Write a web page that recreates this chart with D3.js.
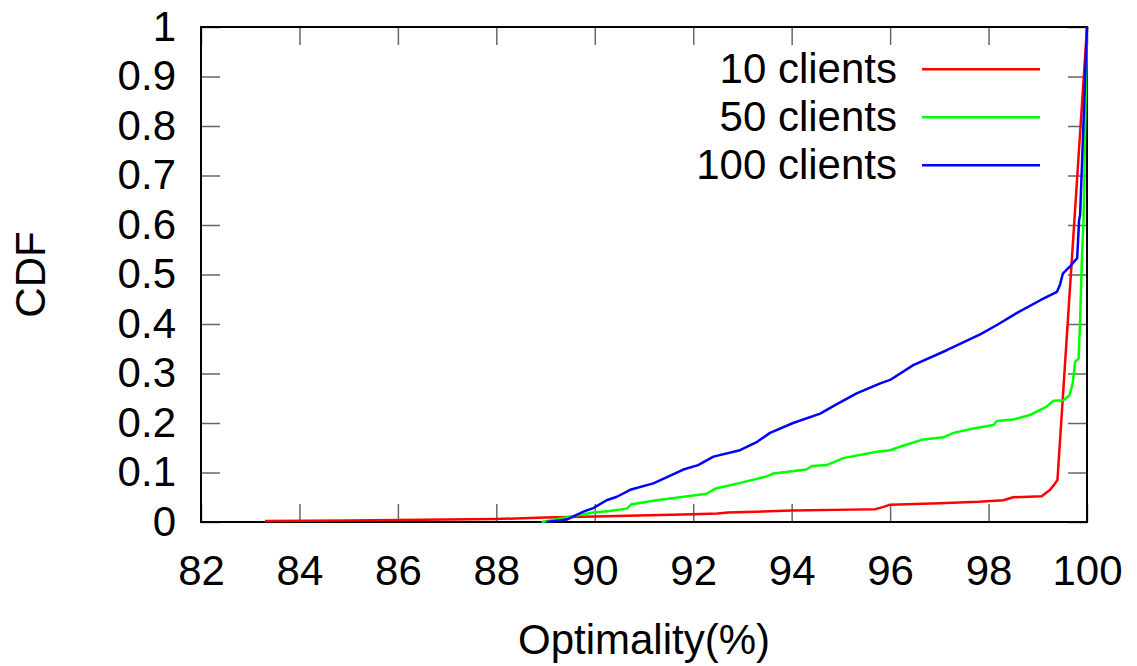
<!DOCTYPE html>
<html>
<head>
<meta charset="utf-8">
<script src="https://cdn.jsdelivr.net/npm/d3@7"></script>
<style>
  body { margin: 0; background: #fff; }
  text { font-family: "Liberation Sans", Arial, sans-serif; }
</style>
</head>
<body>
<div id="chart"></div>
<script>
// data: [optimality %, CDF]
var clients10 = [
  [83.3, 0.002], [85, 0.003], [87, 0.005], [88, 0.006], [89, 0.009], [90, 0.011],
  [92, 0.0155], [92.5, 0.017], [92.7, 0.019], [94, 0.023], [95.2, 0.025], [95.7, 0.026],
  [95.85, 0.03], [96.0, 0.035], [97, 0.038], [97.8, 0.041], [98.3, 0.044], [98.5, 0.05],
  [99.08, 0.052], [99.25, 0.065], [99.33, 0.075], [99.4, 0.085], [100, 1]
];
var clients50 = [
  [88.92, 0], [89.2, 0.005], [89.43, 0.0095], [89.97, 0.019], [90.3, 0.022], [90.65, 0.027],
  [90.75, 0.036], [91.26, 0.044], [91.73, 0.05], [92.27, 0.057], [92.44, 0.067], [93.0, 0.08],
  [93.49, 0.092], [93.63, 0.098], [94.3, 0.106], [94.41, 0.113], [94.71, 0.115], [95.05, 0.129],
  [95.73, 0.142], [96.0, 0.145], [96.2, 0.152], [96.64, 0.166], [97.08, 0.171], [97.29, 0.18],
  [97.69, 0.189], [98.1, 0.196], [98.17, 0.204], [98.5, 0.207], [98.84, 0.216], [98.98, 0.223],
  [99.18, 0.233], [99.32, 0.245], [99.52, 0.246], [99.64, 0.255], [99.71, 0.28], [99.76, 0.324],
  [99.83, 0.33], [99.86, 0.408], [99.9, 0.543], [99.93, 0.61], [100, 1]
];
var clients100 = [
  [89.02, 0], [89.43, 0.005], [89.77, 0.021], [89.97, 0.028], [90.24, 0.044], [90.45, 0.051],
  [90.72, 0.065], [91.19, 0.078], [91.5, 0.092], [91.8, 0.106], [92.1, 0.115], [92.41, 0.132],
  [92.95, 0.145], [93.3, 0.162], [93.56, 0.18], [94.03, 0.2], [94.58, 0.219], [94.9, 0.237],
  [95.32, 0.26], [95.8, 0.28], [96.0, 0.287], [96.47, 0.317], [97.15, 0.347], [97.83, 0.379],
  [98.17, 0.398], [98.57, 0.422], [99.05, 0.448], [99.39, 0.465], [99.45, 0.479], [99.51, 0.502],
  [99.66, 0.517], [99.8, 0.533], [99.84, 0.61], [99.86, 0.62], [100, 1]
];
var seriesNames = ["10 clients", "50 clients", "100 clients"];
var seriesColors = ["#ff0000", "#00ff00", "#0000ff"];
var xTicks = [82, 84, 86, 88, 90, 92, 94, 96, 98, 100];
var yTicks = [0, 0.1, 0.2, 0.3, 0.4, 0.5, 0.6, 0.7, 0.8, 0.9, 1];

var margin = {top: 27, right: 50, bottom: 144, left: 201},
    width = 1137 - margin.left - margin.right,
    height = 666 - margin.top - margin.bottom,
    fontSize = "42px";

var svg = d3.select("#chart")
  .append("svg")
    .attr("width", 1137)
    .attr("height", 666)
  .append("g")
    .attr("transform", "translate(" + margin.left + "," + margin.top + ")");

var x = d3.scaleLinear().domain([82, 100]).range([0, width]);
var y = d3.scaleLinear().domain([0, 1]).range([height, 0]);

var fmtY = function(d) { return d === 0 || d === 1 ? String(d) : d.toFixed(1); };

// axes with inward ticks on all four sides
svg.append("g")
    .attr("transform", "translate(0," + height + ")")
    .call(d3.axisBottom(x).tickValues(xTicks).tickSizeInner(-18).tickSizeOuter(0).tickPadding(33));
svg.append("g")
    .call(d3.axisLeft(y).tickValues(yTicks).tickFormat(fmtY).tickSizeInner(-19).tickSizeOuter(0).tickPadding(25));
svg.append("g")
    .call(d3.axisTop(x).tickValues(xTicks).tickFormat("").tickSizeInner(-18).tickSizeOuter(0));
svg.append("g")
    .attr("transform", "translate(" + width + ",0)")
    .call(d3.axisRight(y).tickValues(yTicks).tickFormat("").tickSizeInner(-19).tickSizeOuter(0));

svg.selectAll(".domain").remove();
svg.selectAll(".tick line").attr("stroke", "#666").attr("stroke-width", 1.5);
svg.selectAll(".tick text").style("font-size", fontSize).attr("fill", "#000");

// frame
svg.append("rect")
    .attr("x", 0).attr("y", 0)
    .attr("width", width).attr("height", height)
    .attr("fill", "none").attr("stroke", "#000").attr("stroke-width", 2);

// lines
var line = d3.line()
    .x(function(d) { return x(d[0]); })
    .y(function(d) { return y(d[1]); });

var allSeries = [clients10, clients50, clients100];
svg.append("g")
  .selectAll("path")
  .data(allSeries)
  .enter()
  .append("path")
    .attr("d", line)
    .attr("fill", "none")
    .attr("stroke", function(d, i) { return seriesColors[i]; })
    .attr("stroke-width", 2.5)
    .attr("stroke-linejoin", "round");

// legend
var legend = svg.append("g")
  .selectAll("g")
  .data(seriesNames)
  .enter()
  .append("g")
    .attr("transform", function(d, i) { return "translate(0," + (42.3 + i * 48) + ")"; });
legend.append("text")
    .attr("x", 696)
    .attr("dy", "0.33em")
    .attr("text-anchor", "end")
    .style("font-size", fontSize)
    .text(function(d) { return d; });
legend.append("line")
    .attr("x1", 721).attr("x2", 839)
    .attr("stroke", function(d, i) { return seriesColors[i]; })
    .attr("stroke-width", 2.5);

// axis titles
svg.append("text")
    .attr("x", width / 2)
    .attr("y", 654 - margin.top)
    .attr("text-anchor", "middle")
    .style("font-size", fontSize)
    .text("Optimality(%)");
svg.append("text")
    .attr("transform", "translate(" + (45 - margin.left) + "," + (height / 2) + ") rotate(-90)")
    .attr("text-anchor", "middle")
    .style("font-size", fontSize)
    .text("CDF");
</script>
</body>
</html>
